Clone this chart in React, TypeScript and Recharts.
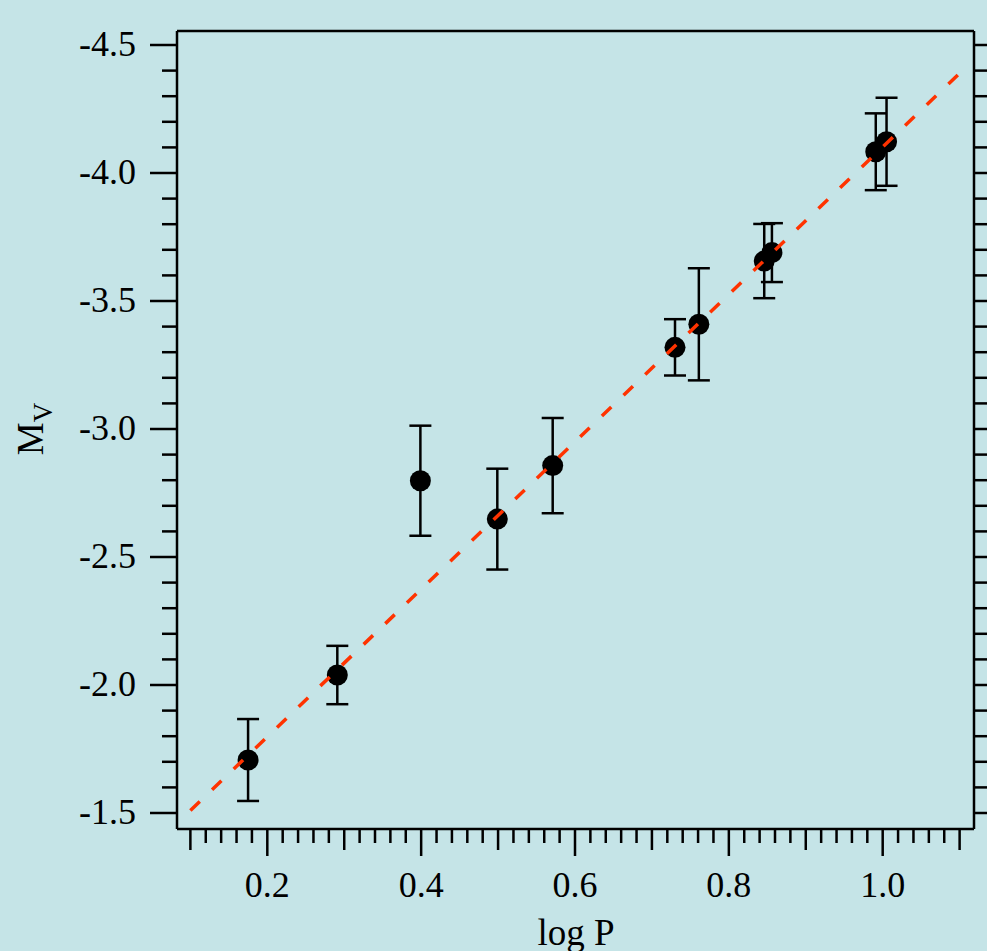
import React from 'react';
import { ComposedChart, Scatter, XAxis, YAxis, ErrorBar } from 'recharts';

// period-luminosity points
const logP = [0.175, 0.291, 0.399, 0.499, 0.571, 0.730, 0.761, 0.846, 0.856, 0.991, 1.005];
const Mv = [-1.707, -2.039, -2.798, -2.648, -2.857, -3.319, -3.409, -3.656, -3.689, -4.083, -4.122];
const MvErr = [0.16, 0.114, 0.215, 0.197, 0.186, 0.11, 0.219, 0.145, 0.115, 0.15, 0.172];

// dashed fit line end points
const fitLogP = [0.1, 1.1];
const fitMv = [-1.51, -4.39];

const xLabels = [0.2, 0.4, 0.6, 0.8, 1.0];
const yLabels = [-4.5, -4.0, -3.5, -3.0, -2.5, -2.0, -1.5];

const xTicks = Array.from({ length: 51 }, (_, i) => +(0.1 + i * 0.02).toFixed(2));
const yTicks = Array.from({ length: 31 }, (_, i) => +(-4.5 + i * 0.1).toFixed(1));

const points = logP.map((p, i) => ({ logP: p, Mv: Mv[i], err: MvErr[i] }));
const fit = fitLogP.map((p, i) => ({ logP: p, Mv: fitMv[i] }));

const BG = '#c5e4e7';
const FONT = '"Liberation Serif", "Times New Roman", serif';

const isMult = (v: number, step: number) => Math.abs(v / step - Math.round(v / step)) < 1e-6;

const BottomTick = (props: any) => {
    const { x, y, payload } = props;
    const v = payload.value;
    const len = isMult(v, 0.2) ? 27 : isMult(v, 0.1) ? 21 : 14;
    const lab = xLabels.find((l) => Math.abs(l - v) < 1e-6);
    return (
        <g>
            <line x1={x} x2={x} y1={y} y2={y + len} stroke="#000" strokeWidth={2.5} />
            {lab !== undefined && (
                <text x={x} y={y + 68} textAnchor="middle" fontFamily={FONT} fontSize={36} fill="#000">
                    {lab.toFixed(1)}
                </text>
            )}
        </g>
    );
};

const TopTick = (props: any) => {
    const { x, y, payload } = props;
    const v = payload.value;
    const len = isMult(v, 0.2) ? 23 : isMult(v, 0.1) ? 20 : 14;
    return <line x1={x} x2={x} y1={y} y2={y - len} stroke="#000" strokeWidth={2.5} />;
};

const LeftTick = (props: any) => {
    const { x, y, payload } = props;
    const v = payload.value;
    const major = isMult(v, 0.5);
    const lab = yLabels.find((l) => Math.abs(l - v) < 1e-6);
    return (
        <g>
            <line x1={x} x2={x - (major ? 27 : 15)} y1={y} y2={y} stroke="#000" strokeWidth={2.5} />
            {lab !== undefined && (
                <text x={x - 41} y={y + 11} textAnchor="end" fontFamily={FONT} fontSize={36} fill="#000">
                    {lab.toFixed(1)}
                </text>
            )}
        </g>
    );
};

const RightTick = (props: any) => {
    const { x, y } = props;
    return <line x1={x} x2={x + 15} y1={y} y2={y} stroke="#000" strokeWidth={2.5} />;
};

const XTitle = () => (
    <text x={576} y={945} textAnchor="middle" fontFamily={FONT} fontSize={37} fill="#000">
        log P
    </text>
);

const YTitle = () => (
    <text
        x={43}
        y={429}
        textAnchor="middle"
        transform="rotate(-90, 43, 429)"
        fontFamily={FONT}
        fontSize={37}
        fill="#000"
    >
        M
        <tspan fontSize={27} dy={9}>
            V
        </tspan>
    </text>
);

const Dot = (p: any) => <circle cx={p.cx} cy={p.cy} r={10.5} fill="#000" />;

export default function App() {
    return (
        <div style={{ position: 'fixed', left: 0, top: 0, width: 987, height: 951, background: BG }}>
            <ComposedChart
                width={987}
                height={951}
                margin={{ top: 0, right: 0, bottom: 0, left: 0 }}
                style={{ background: BG }}
            >
                <XAxis
                    xAxisId={0}
                    type="number"
                    dataKey="logP"
                    domain={[0.0826, 1.1187]}
                    allowDataOverflow
                    ticks={xTicks}
                    interval={0}
                    tickSize={0}
                    tickMargin={0}
                    tickLine={false}
                    tick={<BottomTick />}
                    height={122}
                    axisLine={{ stroke: '#000', strokeWidth: 2.5 }}
                    label={<XTitle />}
                />
                <XAxis
                    xAxisId="top"
                    orientation="top"
                    type="number"
                    domain={[0.0826, 1.1187]}
                    allowDataOverflow
                    ticks={xTicks}
                    interval={0}
                    tickSize={0}
                    tickMargin={0}
                    tickLine={false}
                    tick={<TopTick />}
                    height={31}
                    axisLine={{ stroke: '#000', strokeWidth: 2.5 }}
                />
                <YAxis
                    yAxisId={0}
                    type="number"
                    dataKey="Mv"
                    domain={[-4.5547, -1.4375]}
                    allowDataOverflow
                    reversed
                    ticks={yTicks}
                    interval={0}
                    tickSize={0}
                    tickMargin={0}
                    tickLine={false}
                    tick={<LeftTick />}
                    width={177}
                    axisLine={{ stroke: '#000', strokeWidth: 2.5 }}
                    label={<YTitle />}
                />
                <YAxis
                    yAxisId="right"
                    orientation="right"
                    type="number"
                    domain={[-4.5547, -1.4375]}
                    allowDataOverflow
                    reversed
                    ticks={yTicks}
                    interval={0}
                    tickSize={0}
                    tickMargin={0}
                    tickLine={false}
                    tick={<RightTick />}
                    width={13}
                    axisLine={{ stroke: '#000', strokeWidth: 2.5 }}
                />
                <Scatter data={points} dataKey="Mv" shape={<Dot />} isAnimationActive={false}>
                    <ErrorBar dataKey="err" direction="y" width={11} stroke="#000" strokeWidth={2.5} />
                </Scatter>
                <Scatter
                    data={fit}
                    dataKey="Mv"
                    shape={() => <g />}
                    line={{ stroke: '#ff3300', strokeWidth: 3.5, strokeDasharray: '13 17' }}
                    isAnimationActive={false}
                />
            </ComposedChart>
        </div>
    );
}
